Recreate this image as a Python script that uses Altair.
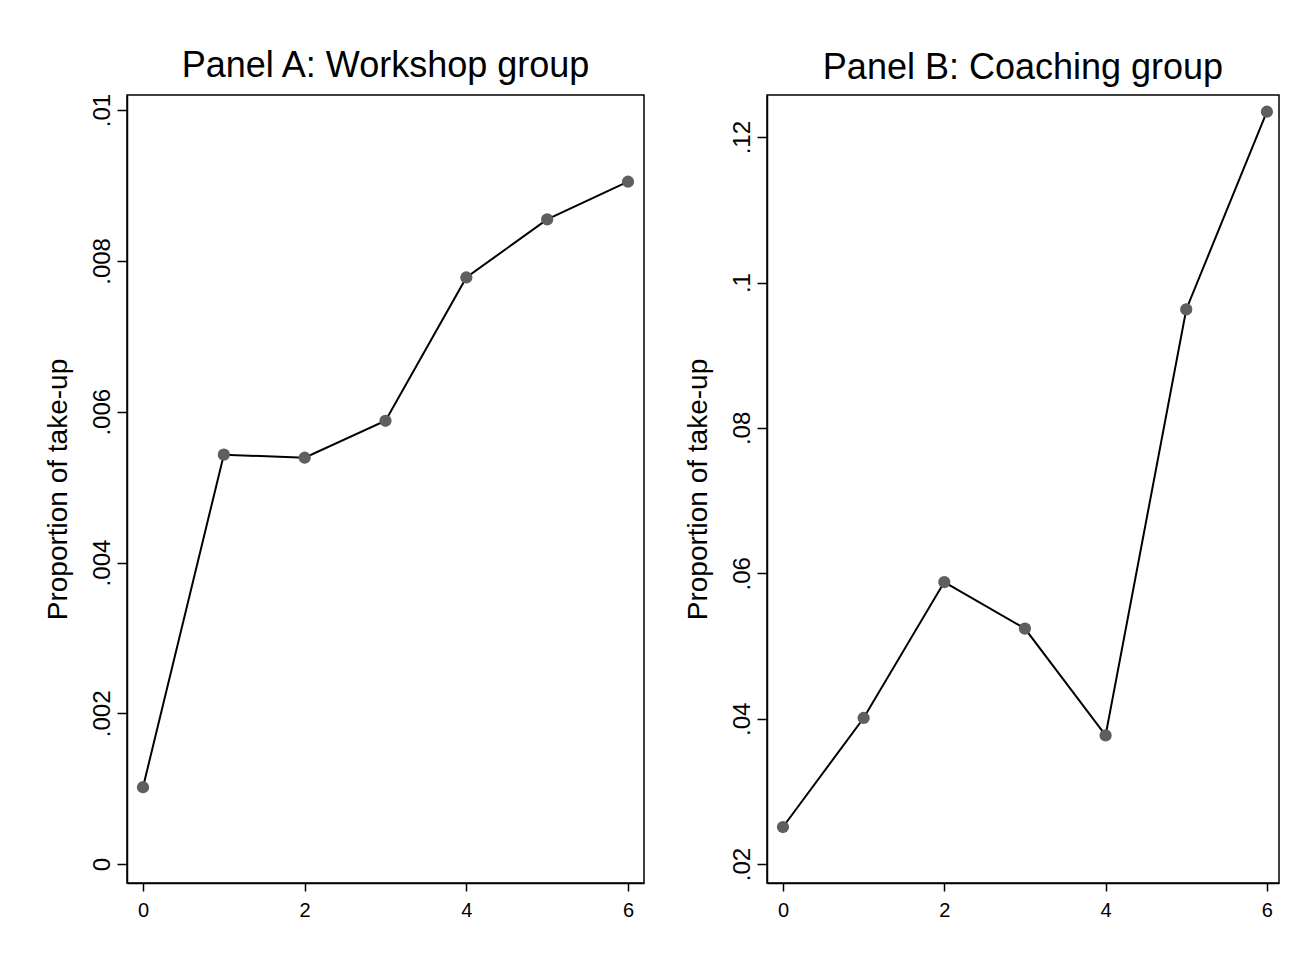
import altair as alt
import pandas as pd

# Data
days = [0, 1, 2, 3, 4, 5, 6]
workshop = [0.00102, 0.00543, 0.00539, 0.00588, 0.00778, 0.00855, 0.00905]
coaching = [0.0251, 0.0401, 0.0588, 0.0524, 0.0377, 0.0963, 0.1235]

x_ticks = [0, 2, 4, 6]
yA_ticks = [0, 0.002, 0.004, 0.006, 0.008, 0.01]
yB_ticks = [0.02, 0.04, 0.06, 0.08, 0.10, 0.12]

titleA = "Panel A: Workshop group"
titleB = "Panel B: Coaching group"
y_title = "Proportion of take-up"

FONT = "Liberation Sans"
label_expr = "replace(format(datum.value, '~g'), /^0\\./, '.')"


def panel(values, title, y_ticks, y_domain, x_domain, width):
    df = pd.DataFrame({"x": days, "y": values})
    x = alt.X("x:Q", title=None,
              scale=alt.Scale(domain=x_domain, nice=False, zero=False),
              axis=alt.Axis(values=x_ticks, labelFontSize=20, labelPadding=9,
                            tickSize=8, labelFlush=False))
    y = alt.Y("y:Q", title=y_title,
              scale=alt.Scale(domain=y_domain, nice=False, zero=False),
              axis=alt.Axis(values=y_ticks, labelExpr=label_expr,
                            labelAngle=270, labelAlign="center",
                            labelBaseline="alphabetic", labelFontSize=24,
                            labelPadding=8, tickSize=10, labelFlush=False,
                            titleFontSize=28, titlePadding=18))
    base = alt.Chart(df)
    line = base.mark_line(color="black", strokeWidth=2).encode(x=x, y=y)
    pts = base.mark_point(filled=True, color="#5f5f5f", opacity=1, size=150).encode(x=x, y=y)
    return (line + pts).properties(
        width=width, height=788,
        title=alt.TitleParams(title, fontSize=36, font=FONT, fontWeight="normal",
                              color="black", anchor="middle", offset=8))


A = panel(workshop, titleA, yA_ticks, [-0.00025, 0.0102], [-0.198, 6.198], 517)
B = panel(coaching, titleB, yB_ticks, [0.0174, 0.1258], [-0.198, 6.15], 512)

chart = alt.hconcat(A, B, spacing=38).properties(
    padding={"left": 35, "top": 39, "right": 5, "bottom": 5},
    background="white",
).configure_view(
    stroke="black", strokeWidth=1.5
).configure_axis(
    grid=False, domainColor="black", domainWidth=1.5,
    tickColor="black", tickWidth=1.5,
    labelColor="black", titleColor="black",
    labelFont=FONT, titleFont=FONT, titleFontWeight="normal",
)

chart.save("out.html", embed_options={"renderer": "svg", "actions": False})
